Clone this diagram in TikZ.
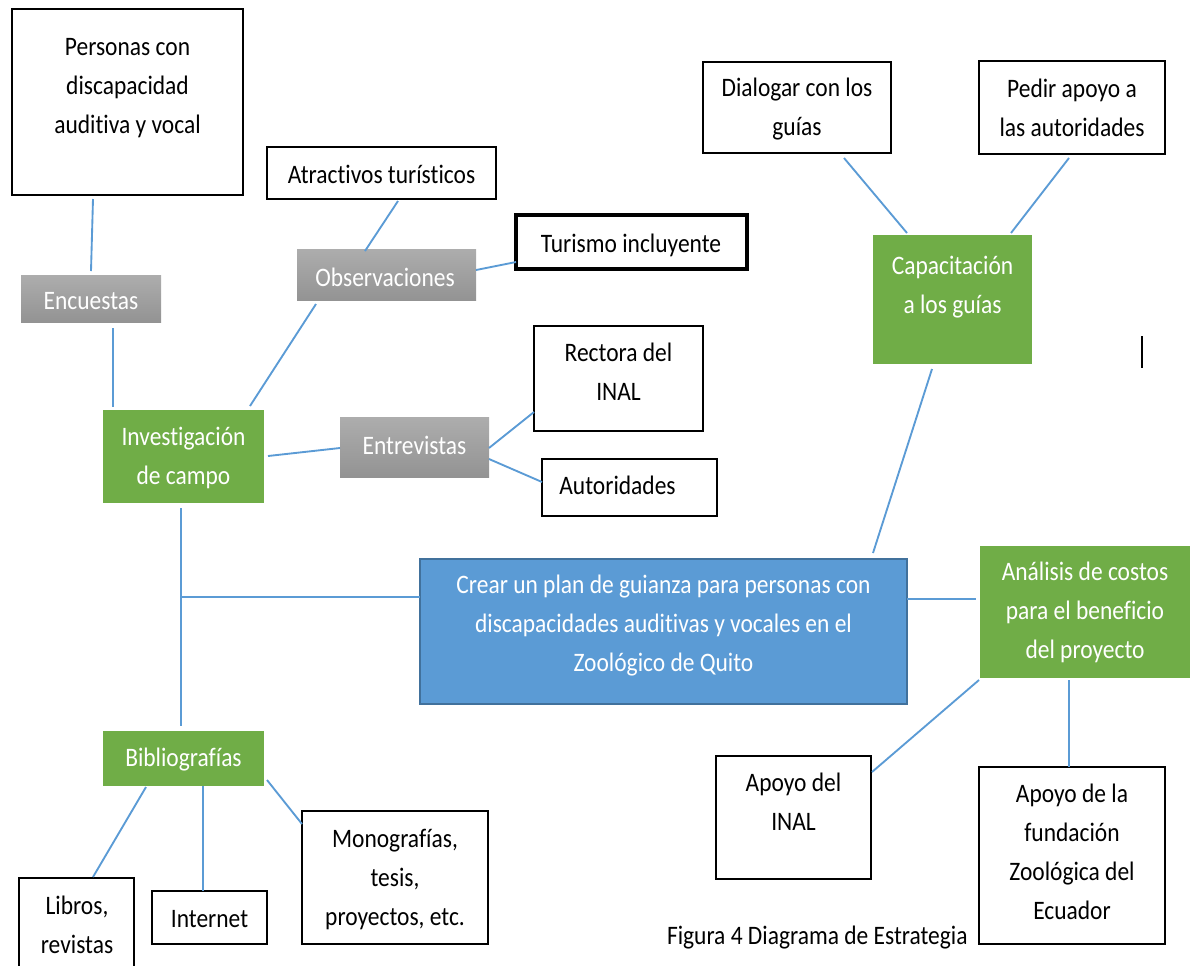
\documentclass[tikz,border=0pt]{standalone}
\usepackage{fontspec}
\setmainfont{Carlito}[FakeStretch=0.88, Ligatures=NoCommon]
\usetikzlibrary{calc}
\definecolor{cgreen}{HTML}{70AD47}
\definecolor{cblue}{HTML}{5B9BD5}
\definecolor{cblueb}{HTML}{41719C}
\definecolor{cline}{HTML}{5B9BD5}
\definecolor{cgraytop}{HTML}{ADADAD}
\definecolor{cgraybot}{HTML}{939393}
\newcommand\bx[6]{\node[#2, minimum width={(#5-#3)*0.75pt}, minimum height={(#6-#4)*0.75pt}] (#1) at ({(#3+#5)/2},{(#4+#6)/2}) {};}
\tikzset{
  every node/.style={inner sep=0pt, outer sep=0pt},
  wbox/.style={draw=black, line width=1.5pt, fill=white},
  tbox/.style={draw=black, line width=3pt, fill=white},
  gbox/.style={fill=cgreen, draw=none},
  greybox/.style={top color=cgraytop, bottom color=cgraybot, draw=none},
  bbox/.style={fill=cblue, draw=cblueb, line width=1pt},
  txt/.style={anchor=base, align=center, font=\fontsize{20}{29.25}\selectfont, text=black},
  wtxt/.style={txt, text=white},
  link/.style={draw=cline, line width=1.4pt},
}
\begin{document}
\begin{tikzpicture}[x=0.75pt, y=-0.75pt]
\useasboundingbox (0,0) rectangle (1193,965);
% boxes
\bx{pers}{wbox}{12}{9}{243}{195}
\bx{enc}{greybox}{21}{275}{161}{322}
\bx{atr}{wbox}{267}{147}{496}{199}
\bx{obs}{greybox}{297}{249}{476}{300}
\bx{tur}{tbox}{516}{215}{747}{269}
\bx{inv}{gbox}{103}{410}{264}{503}
\bx{ent}{greybox}{340}{417}{489}{477}
\bx{rec}{wbox}{534}{326}{703}{431}
\bx{aut}{wbox}{542}{459}{717}{516}
\bx{blue}{bbox}{420}{559}{907}{704}
\bx{bib}{gbox}{103}{731}{264}{786}
\bx{lib}{wbox}{19}{878}{134}{980}
\bx{int}{wbox}{152}{891}{267}{944}
\bx{mon}{wbox}{302}{811}{488}{944}
\bx{dia}{wbox}{703}{62}{891}{153}
\bx{ped}{wbox}{979}{61}{1165}{154}
\bx{cap}{gbox}{873}{235}{1032}{364}
\bx{ana}{gbox}{980}{546}{1190}{678}
\bx{ina}{wbox}{716}{756}{871}{879}
\bx{fun}{wbox}{979}{767}{1165}{944}
% texts (anchor = baseline of the last line)
\node[txt] (pers-t) at (127.5,133) {Personas con\\discapacidad\\auditiva y vocal};
\node[wtxt] (enc-t) at (91,309) {Encuestas};
\node[txt] (atr-t) at (381.5,183) {Atractivos turísticos};
\node[wtxt] (obs-t) at (385,286) {Observaciones};
\node[txt] (tur-t) at (631,252) {Turismo incluyente};
\node[wtxt] (inv-t) at (183.5,484) {Investigación\\de campo};
\node[wtxt] (ent-t) at (414.5,454) {Entrevistas};
\node[txt] (rec-t) at (618.5,400) {Rectora del\\INAL};
\node[txt] (aut-t) at (617.5,494) {Autoridades};
\node[wtxt] (blue-t) at (663.5,671) {Crear un plan de guianza para personas con\\discapacidades auditivas y vocales en el\\Zoológico de Quito};
\node[wtxt] (bib-t) at (183.5,766) {Bibliografías};
\node[txt] (lib-t) at (77,953) {Libros,\\revistas};
\node[txt] (int-t) at (209.5,927) {Internet};
\node[txt] (mon-t) at (395,925) {Monografías,\\tesis,\\proyectos, etc.};
\node[txt] (dia-t) at (797,135.5) {Dialogar con los\\guías};
\node[txt] (ped-t) at (1072,136.5) {Pedir apoyo a\\las autoridades};
\node[wtxt] (cap-t) at (952.5,313) {Capacitación\\a los guías};
\node[wtxt] (ana-t) at (1085,658) {Análisis de costos\\para el beneficio\\del proyecto};
\node[txt] (ina-t) at (793.5,830.5) {Apoyo del\\INAL};
\node[txt] (fun-t) at (1072,919.5) {Apoyo de la\\fundación\\Zoológica del\\Ecuador};
\node[txt, anchor=base west] (caption) at (667,944) {Figura 4 Diagrama de Estrategia};
% connectors
\coordinate (junc) at (181,597);
\draw[link] ($(pers.south west)+(81,4)$) -- ($(enc.north west)+(70,-4)$);
\draw[link] ($(enc.south west)+(92,6)$) -- ($(inv.north west)+(10,-3)$);
\draw[link] ($(atr.south west)+(131,2)$) -- ($(obs.north west)+(68,2)$);
\draw[link] ($(obs.south west)+(19,4)$) -- ($(inv.north west)+(147,-4)$);
\draw[link] ($(obs.north east)+(0,21)$) -- ($(tur.south west)+(0,-7)$);
\draw[link] ($(inv.north east)+(4,46)$) -- ($(ent.north west)+(0,31)$);
\draw[link] ($(ent.north east)+(0,31)$) -- ($(rec.south west)+(0,-19)$);
\draw[link] ($(ent.north east)+(0,42)$) -- ($(aut.north west)+(0,23)$);
\draw[link] ($(inv.south west)+(78,5)$) -- ($(bib.north west)+(78,-5)$);
\draw[link] (junc) -- ($(blue.north west)+(0,38)$);
\draw[link] ($(bib.south west)+(43,1)$) -- ($(lib.north west)+(74,-1)$);
\draw[link] ($(bib.south west)+(100,0)$) -- ($(int.north west)+(51,0)$);
\draw[link] ($(bib.north east)+(3,49)$) -- ($(mon.north west)+(0,13)$);
\draw[link] ($(dia.south west)+(141,5)$) -- ($(cap.north west)+(34,-2)$);
\draw[link] ($(ped.south west)+(90,4)$) -- ($(cap.north west)+(138,-2)$);
\draw[link] ($(cap.south west)+(59,5)$) -- ($(blue.north west)+(453,-6)$);
\draw[link] ($(blue.north east)+(0,40)$) -- ($(ana.north west)+(-4,53)$);
\draw[link] ($(ana.south west)+(-1,2)$) -- ($(ina.north east)+(1,16)$);
\draw[link] ($(ana.south west)+(89,2)$) -- ($(fun.north west)+(90,0)$);
% stray cursor bar
\draw[black, line width=1.3pt] (1142,336) -- (1142,368);
\end{tikzpicture}
\end{document}
